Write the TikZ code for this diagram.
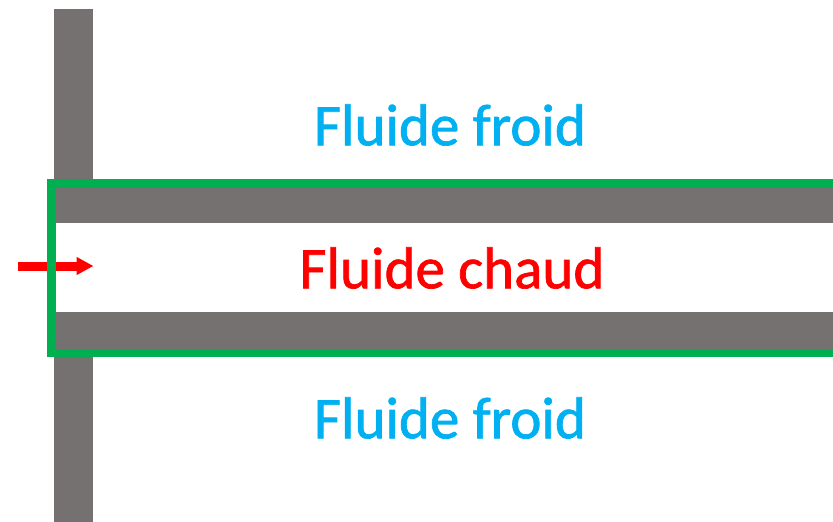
\documentclass[tikz,border=0pt]{standalone}
\usepackage{fontspec}
\setmainfont{Carlito}
\newfontfamily\labelfont[FakeBold=1.2]{Carlito}
\usetikzlibrary{arrows.meta}
\definecolor{wallgray}{HTML}{767171}
\definecolor{boxgreen}{HTML}{00B050}
\definecolor{coldblue}{HTML}{00B0F0}
\definecolor{hotred}{HTML}{FF0000}
\tikzset{
  wall/.style={fill=wallgray, draw=none},
  label/.style={font=\labelfont\fontsize{59}{59}\selectfont, inner sep=0pt, anchor=center},
}
\begin{document}
\begin{tikzpicture}[x=1pt, y=-1pt]
\useasboundingbox (0,0) rectangle (833,522);
% vertical wall, split around the channel
\fill[wall] (54,9) rectangle (93,184);
\fill[wall] (54,352) rectangle (93,522);
% channel walls
\fill[wall] (54,184) rectangle (833,223);
\fill[wall] (54,312) rectangle (833,352);
% inflow arrow
\coordinate (ain) at (18,266);
\coordinate (aout) at (93.5,266);
\draw[hotred, line width=9pt, -{Triangle[length=17pt,width=17pt]}] (ain) -- (aout);
% control volume
\draw[boxgreen, line width=8.5pt] (840,183.7) -- (51.7,183.7) -- (51.7,352.8) -- (840,352.8);
% labels
\node[label, text=coldblue] (top) at (450,125) {Fluide froid};
\node[label, text=hotred] (mid) at (452,268) {Fluide chaud};
\node[label, text=coldblue] (bot) at (450,418) {Fluide froid};
\end{tikzpicture}
\end{document}
